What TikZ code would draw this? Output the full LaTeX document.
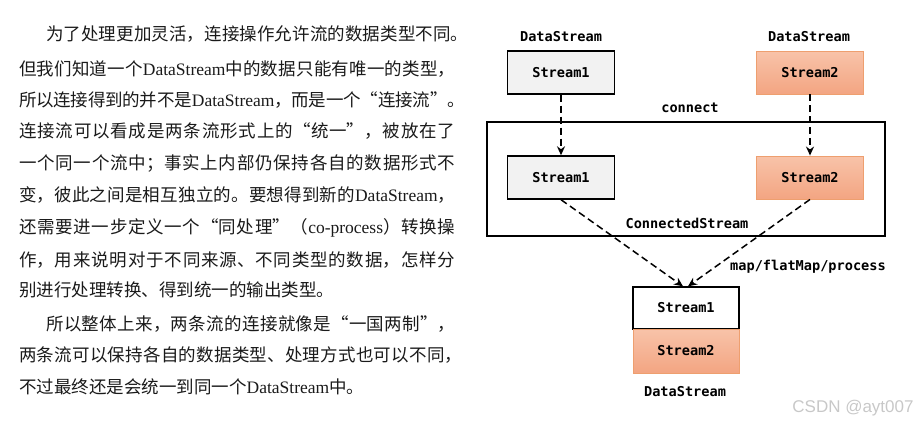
\documentclass[tikz,border=0pt]{standalone}
\usepackage{fontspec}
\usepackage{tikz}
\usetikzlibrary{arrows.meta}
\setmainfont{Noto Sans CJK SC}
\newfontfamily\latfont{Liberation Serif}
\newfontfamily\dsfont{DejaVu Sans Mono}
\newfontfamily\wmfont{Liberation Sans}
\newcommand{\lat}[1]{{\latfont #1}}
\XeTeXlinebreaklocale "zh"
\XeTeXlinebreakskip=0pt plus 4pt minus 1.5pt
\definecolor{streamgray}{HTML}{F2F2F2}
\definecolor{streamtop}{HTML}{F8C3A9}
\definecolor{streambot}{HTML}{F3A582}
\definecolor{streamedge}{HTML}{EE9F6F}
\definecolor{textdark}{HTML}{1A1A1A}
\definecolor{wmgray}{HTML}{C8C8C8}

\begin{document}
\begin{tikzpicture}[x=1pt, y=-1pt,
    cnline/.style={anchor=base west, inner sep=0pt, text width=436pt, align=justify,
        color=textdark, font=\fontsize{17.5}{20}\selectfont,
        execute at begin node={\parfillskip=0pt\relax}},
    cnlast/.style={anchor=base west, inner sep=0pt, color=textdark,
        font=\fontsize{17.5}{20}\selectfont},
    lbl/.style={font=\fontsize{13.6}{16}\dsfont\bfseries, inner sep=0pt},
    graybox/.style={lbl, draw=black, line width=1.4pt, fill=streamgray,
        minimum width=107pt, minimum height=43pt},
    orangebox/.style={lbl, draw=streamedge, line width=0.9pt, top color=streamtop,
        bottom color=streambot, minimum width=107pt, minimum height=43pt},
    flow/.style={line width=1.5pt, dash pattern=on 7pt off 4pt, -{Stealth[length=9pt, width=8pt]}}]
    \useasboundingbox (0,0) rectangle (918,424);

    % Text on the left
    \node[cnline, text width=422pt] (l1) at (46,40) {为了处理更加灵活，连接操作允许流的数据类型不同。};
    \node[cnline] (l2) at (19,75) {但我们知道一个\lat{DataStream}中的数据只能有唯一的类型，};
    \node[cnline, text width=446pt] (l3) at (19,106.6) {所以连接得到的并不是\lat{DataStream}，而是一个“连接流”。};
    \node[cnline] (l4) at (19,137.6) {连接流可以看成是两条流形式上的“统一”，被放在了};
    \node[cnline] (l5) at (19,169.6) {一个同一个流中；事实上内部仍保持各自的数据形式不};
    \node[cnline] (l6) at (19,201.6) {变，彼此之间是相互独立的。要想得到新的\lat{DataStream}，};
    \node[cnline] (l7) at (19,233.3) {还需要进一步定义一个“同处理”（\lat{co-process}）转换操};
    \node[cnline] (l8) at (19,266.6) {作，用来说明对于不同来源、不同类型的数据，怎样分};
    \node[cnlast] (l9) at (19,296.6) {别进行处理转换、得到统一的输出类型。};
    \node[cnline, text width=409pt] (l10) at (46,330) {所以整体上来，两条流的连接就像是“一国两制”，};
    \node[cnline, text width=443pt] (l11) at (19,361.6) {两条流可以保持各自的数据类型、处理方式也可以不同，};
    \node[cnlast] (l12) at (19,393.3) {不过最终还是会统一到同一个\lat{DataStream}中。};

    % Source streams
    \node[lbl] (src1) at (561,37) {DataStream};
    \node[lbl] (src2) at (809,37) {DataStream};
    \node[graybox] (s1) at (561,72.5) {Stream1};
    \node[orangebox] (s2) at (810,72.5) {Stream2};

    % Connected stream
    \node[draw=black, line width=1.4pt, minimum width=398pt, minimum height=114pt] (cs) at (686,179) {};
    \node[lbl] (conn) at (690,108) {connect};
    \node[graybox] (c1) at (561,177.5) {Stream1};
    \node[orangebox] (c2) at (810,177.5) {Stream2};
    \node[lbl] (cslbl) at (687,223) {ConnectedStream};

    % Result stream
    \node[lbl, draw=black, line width=1.4pt, fill=white, minimum width=106pt, minimum height=42pt] (o1) at (686,308) {Stream1};
    \node[orangebox, minimum width=106pt, minimum height=44pt] (o2) at (686,351) {Stream2};
    \node[lbl] (dst) at (685,392) {DataStream};
    \node[lbl] (op) at (808,267) {map/flatMap/process};

    % Arrows
    \draw[flow] (s1) -- (c1);
    \draw[flow] (s2) -- (c2);
    \draw[flow] (c1.south) -- ([xshift=-3pt]o1.north);
    \draw[flow] (c2.south) -- ([xshift=2pt]o1.north);

    % Watermark
    \node[font=\fontsize{17}{20}\wmfont, color=wmgray, inner sep=0pt] (wm) at (853,408) {CSDN @ayt007};
\end{tikzpicture}
\end{document}
